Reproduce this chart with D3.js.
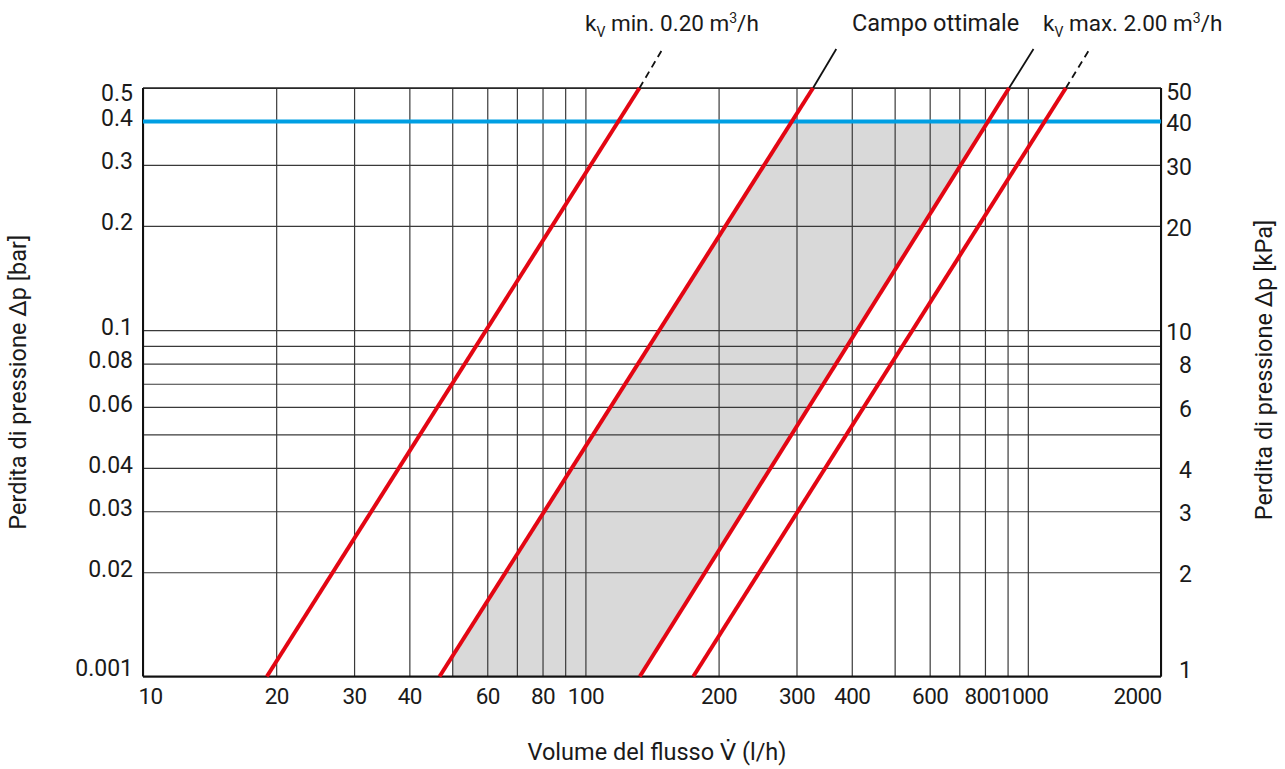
<!DOCTYPE html>
<html>
<head>
<meta charset="utf-8">
<script src="https://cdn.jsdelivr.net/npm/d3@7"></script>
<style>
  body { margin: 0; background: #fff; }
  svg { display: block; font-family: Roboto, 'DejaVu Sans', sans-serif; }
  .grid line { stroke: #3a3a3a; stroke-width: 1.2; }
  .grid path { display: none; }
  .labels path, .labels line { display: none; }
  .labels text { font-size: 23px; fill: #1a1a1a; font-family: Roboto, sans-serif; }
  .xlabels text { font-size: 22.5px; letter-spacing: -0.6px; }
</style>
</head>
<body>
<svg id="chart" width="1285" height="769"></svg>
<script>
// flow [l/h] grid and labels
const xGrid = [10, 20, 30, 40, 50, 60, 70, 80, 90, 100, 200, 300, 400, 500, 600, 700, 800, 900, 1000, 2000]
const xLabels = [10, 20, 30, 40, 60, 80, 100, 200, 300, 400, 600, 800, 1000, 2000]

// pressure loss [bar] grid and labels
const yGrid = [0.01, 0.02, 0.03, 0.04, 0.05, 0.06, 0.07, 0.08, 0.09, 0.1, 0.2, 0.3, 0.5]
const barTicks = [0.5, 0.4, 0.3, 0.2, 0.1, 0.08, 0.06, 0.04, 0.03, 0.02, 0.01]
const barLabels = ['0.5', '0.4', '0.3', '0.2', '0.1', '0.08', '0.06', '0.04', '0.03', '0.02', '0.001']
const kpaLabels = ['50', '40', '30', '20', '10', '8', '6', '4', '3', '2', '1']

// kv lines: [flow l/h, dp bar]
const kvMinLine = [[19.05, 0.01], [132.5, 0.5]]
const kvMinExt = [[132.5, 0.5], [149.4, 0.648]]
const optLowLine = [[46.8, 0.01], [327, 0.5]]
const optLowExt = [[327, 0.5], [369, 0.648]]
const optHighLine = [[132.7, 0.01], [907, 0.5]]
const optHighExt = [[907, 0.5], [1030, 0.648]]
const kvMaxLine = [[175.3, 0.01], [1219, 0.5]]
const kvMaxExt = [[1219, 0.5], [1380, 0.648]]

// optimal range (grey area) and upper limit
const optimalArea = [[50, 0.01], [50, 0.0114], [293, 0.4], [813, 0.4], [132.7, 0.01]]
const dpLimit = 0.4

const plotLeft = 143, plotRight = 1161, plotTop = 88, plotBottom = 676.5
const red = '#e30613'
const blue = '#009fe3'

const svg = d3.select('#chart')

const x = d3.scaleLog().domain([10, 2000]).range([plotLeft, plotRight])
const y = d3.scaleLog().domain([0.01, 0.5]).range([plotBottom, plotTop])

const line = d3.line()
  .x((d) => x(d[0]))
  .y((d) => y(d[1]))

// grey optimal field
svg.append('path')
  .datum(optimalArea)
  .attr('d', (d) => line(d) + 'Z')
  .attr('fill', '#d9d9d9')

// grid
svg.append('g')
  .attr('class', 'grid')
  .attr('transform', `translate(0,${plotBottom})`)
  .call(d3.axisBottom(x).tickValues(xGrid).tickSize(-(plotBottom - plotTop)).tickFormat(''))

svg.append('g')
  .attr('class', 'grid')
  .attr('transform', `translate(${plotLeft},0)`)
  .call(d3.axisLeft(y).tickValues(yGrid).tickSize(-(plotRight - plotLeft)).tickFormat(''))

// frame
svg.append('line').attr('x1', plotLeft).attr('x2', plotRight).attr('y1', plotBottom).attr('y2', plotBottom)
  .attr('stroke', '#111').attr('stroke-width', 2.2)
svg.append('line').attr('x1', plotLeft).attr('x2', plotRight).attr('y1', plotTop).attr('y2', plotTop)
  .attr('stroke', '#222').attr('stroke-width', 1.5)
svg.append('line').attr('x1', plotLeft).attr('x2', plotLeft).attr('y1', plotTop).attr('y2', plotBottom)
  .attr('stroke', '#111').attr('stroke-width', 2)
svg.append('line').attr('x1', plotRight).attr('x2', plotRight).attr('y1', plotTop).attr('y2', plotBottom)
  .attr('stroke', '#111').attr('stroke-width', 2)

// blue limit
svg.append('line')
  .attr('x1', plotLeft).attr('x2', plotRight)
  .attr('y1', y(dpLimit)).attr('y2', y(dpLimit))
  .attr('stroke', blue)
  .attr('stroke-width', 4)

// extensions above the frame
const exts = [
  { pts: kvMinExt, dash: '7,5' },
  { pts: optLowExt, dash: null },
  { pts: optHighExt, dash: null },
  { pts: kvMaxExt, dash: '7,5' }
]
exts.forEach((e) => {
  svg.append('path')
    .datum(e.pts)
    .attr('d', line)
    .attr('fill', 'none')
    .attr('stroke', '#111')
    .attr('stroke-width', 1.8)
    .attr('stroke-dasharray', e.dash)
})

// red kv lines
;[kvMinLine, optLowLine, optHighLine, kvMaxLine].forEach((pts) => {
  svg.append('path')
    .datum(pts)
    .attr('d', line)
    .attr('fill', 'none')
    .attr('stroke', red)
    .attr('stroke-width', 4)
})

// x labels
const xAxis = svg.append('g')
  .attr('class', 'labels xlabels')
  .attr('transform', `translate(0,${plotBottom})`)
  .call(d3.axisBottom(x).tickValues(xLabels).tickSize(0).tickPadding(12).tickFormat(d3.format('d')))
xAxis.selectAll('text')
  .attr('dy', '0.71em')
  .attr('dx', (d) => d === 10 ? 7 : d === 2000 ? -24 : d === 1000 ? -4 : d === 800 ? -3 : 0)

// left labels
const yLeft = svg.append('g')
  .attr('class', 'labels')
  .attr('transform', `translate(${plotLeft},0)`)
  .call(d3.axisLeft(y).tickValues(barTicks).tickSize(0).tickPadding(10)
    .tickFormat((d, i) => barLabels[i]))
yLeft.selectAll('text')
  .attr('dy', (d) => d === 0.5 ? '0.55em' : d === 0.01 ? '-0.05em' : '0.18em')

// right labels
const yRight = svg.append('g')
  .attr('class', 'labels')
  .attr('transform', `translate(${plotRight},0)`)
  .call(d3.axisRight(y).tickValues(barTicks).tickSize(0).tickPadding(31)
    .tickFormat((d, i) => kpaLabels[i]))
yRight.selectAll('text')
  .attr('text-anchor', 'end')
  .attr('dy', (d) => d === 0.5 ? '0.5em' : d === 0.01 ? '0.05em' : '0.4em')

// axis titles
svg.append('text')
  .attr('transform', `translate(26,${(plotTop + plotBottom) / 2}) rotate(-90)`)
  .attr('text-anchor', 'middle')
  .attr('font-size', 23.5)
  .attr('fill', '#1a1a1a')
  .text('Perdita di pressione Δp [bar]')

svg.append('text')
  .attr('transform', `translate(1272,370) rotate(-90)`)
  .attr('text-anchor', 'middle')
  .attr('font-size', 23.5)
  .attr('fill', '#1a1a1a')
  .text('Perdita di pressione Δp [kPa]')

svg.append('text')
  .attr('x', 657)
  .attr('y', 760)
  .attr('text-anchor', 'middle')
  .attr('font-size', 23.5)
  .attr('fill', '#1a1a1a')
  .text('Volume del flusso V\u0307 (l/h)')

// top labels
function kvLabel(xPos, rest) {
  const t = svg.append('text')
    .attr('x', xPos)
    .attr('y', 31)
    .attr('font-size', 22.5)
    .attr('fill', '#1a1a1a')
  t.append('tspan').text('k')
  t.append('tspan').attr('dy', 6).attr('font-size', 14).text('V')
  t.append('tspan').attr('dy', -6).text(rest)
  t.append('tspan').attr('dy', -8).attr('font-size', 14).text('3')
  t.append('tspan').attr('dy', 8).text('/h')
}
kvLabel(585, ' min. 0.20 m')
kvLabel(1043, ' max. 2.00 m')

svg.append('text')
  .attr('x', 852)
  .attr('y', 31)
  .attr('font-size', 23.5)
  .attr('fill', '#1a1a1a')
  .text('Campo ottimale')
</script>
</body>
</html>
